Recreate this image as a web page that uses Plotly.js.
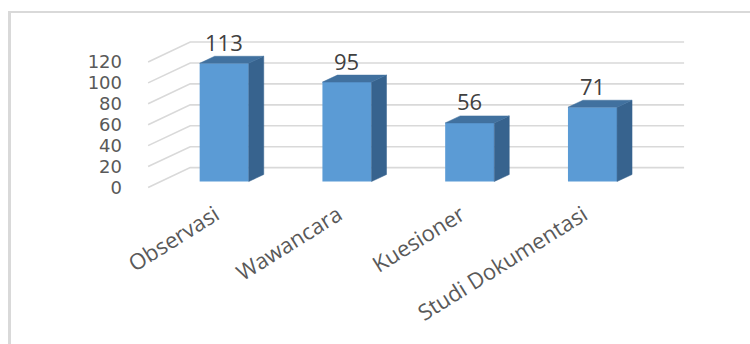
<!DOCTYPE html>
<html>
<head>
<meta charset="utf-8">
<script src="https://cdn.plot.ly/plotly-3.0.1.min.js"></script>
<style>
  html, body { margin: 0; padding: 0; background: #ffffff; }
  #wrap { position: relative; width: 750px; height: 344px; overflow: hidden; }
  #frame { position: absolute; left: 8px; top: 11px; width: 760px; height: 360px;
           border-left: 3px solid #d9d9d9; border-top: 2px solid #d9d9d9; box-sizing: border-box; }
  #chart { position: absolute; left: 0; top: 0; width: 750px; height: 344px; }
</style>
</head>
<body>
<div id="wrap">
  <div id="frame"></div>
  <div id="chart"></div>
</div>
<script>
// ---- data ----
const categories = ['Observasi', 'Wawancara', 'Kuesioner', 'Studi Dokumentasi'];
const values = [113, 95, 56, 71];
const yTicks = [0, 20, 40, 60, 80, 100, 120];

// ---- 3D styling constants (in axis units) ----
const barW = 0.4;        // bar front width (category units)
const depX = 0.122;      // bar depth, horizontal
const depY = 6.7;        // bar depth, vertical (value units)
const floorFrontX = -0.62, wallX = -0.277, wallRight = 3.746;
const wallRise = 19;     // back wall offset vs front edge (value units)

const pos = categories.map((c, i) => i);

// gridlines: floor diagonals + back wall (on main y = front-edge coordinates)
const gx = [], gy = [];
yTicks.forEach(v => {
  gx.push(floorFrontX, wallX, wallRight, null);
  gy.push(v, v + wallRise, v + wallRise, null);
});

// side and top faces of bars (on y2 = bar front-face coordinates)
const sx = [], sy = [], tx = [], ty = [];
values.forEach((v, i) => {
  const r = pos[i] + barW / 2, l = pos[i] - barW / 2;
  sx.push(r, r + depX, r + depX, r, r, null);
  sy.push(0, depY, v + depY, v, 0, null);
  tx.push(l, r, r + depX, l + depX, l, null);
  ty.push(v, v, v + depY, v + depY, v, null);
});

const traces = [
  { type: 'scatter', mode: 'lines', x: gx, y: gy, xaxis: 'x', yaxis: 'y',
    line: { color: '#d9d9d9', width: 1.6 }, hoverinfo: 'skip', showlegend: false },
  { type: 'bar', x: pos, y: values, width: barW, xaxis: 'x', yaxis: 'y2',
    marker: { color: '#5b9bd5', line: { width: 0 } }, showlegend: false },
  { type: 'scatter', mode: 'lines', x: sx, y: sy, xaxis: 'x', yaxis: 'y2', fill: 'toself',
    fillcolor: '#37638e', line: { color: '#37638e', width: 0.5 }, hoverinfo: 'skip', showlegend: false },
  { type: 'scatter', mode: 'lines', x: tx, y: ty, xaxis: 'x', yaxis: 'y2', fill: 'toself',
    fillcolor: '#41719f', line: { color: '#41719f', width: 0.5 }, hoverinfo: 'skip', showlegend: false }
];

const annotations = values.map((v, i) => ({
  x: pos[i], y: v, xref: 'x', yref: 'y2', text: String(v), showarrow: false,
  yshift: 21.5, yanchor: 'middle', xanchor: 'center',
  font: { family: 'Open Sans, sans-serif', size: 22, color: '#404040' }
}));

const layout = {
  width: 750, height: 344,
  margin: { l: 125.8, r: 47.1, t: 35, b: 151.5, pad: 0 },
  paper_bgcolor: 'rgba(0,0,0,0)', plot_bgcolor: 'rgba(0,0,0,0)',
  showlegend: false,
  xaxis: {
    range: [-0.8, 3.9], tickvals: pos, ticktext: categories, tickangle: -32,
    showgrid: false, zeroline: false, showline: false, ticks: '',
    ticklabelshift: -9, ticklabelstandoff: 5,
    tickfont: { family: 'Open Sans, sans-serif', size: 22, color: '#595959' }
  },
  yaxis: {
    range: [-4.2857, 145.714], tickvals: yTicks, showgrid: false, zeroline: false,
    showline: false, ticks: '', ticklabelstandoff: 3,
    tickfont: { family: 'DejaVu Sans, sans-serif', size: 18, color: '#595959' }
  },
  yaxis2: {
    range: [-10, 140], overlaying: 'y', visible: false, showgrid: false, zeroline: false
  },
  annotations: annotations
};

Plotly.newPlot('chart', traces, layout, { displayModeBar: false, staticPlot: true });
</script>
</body>
</html>
